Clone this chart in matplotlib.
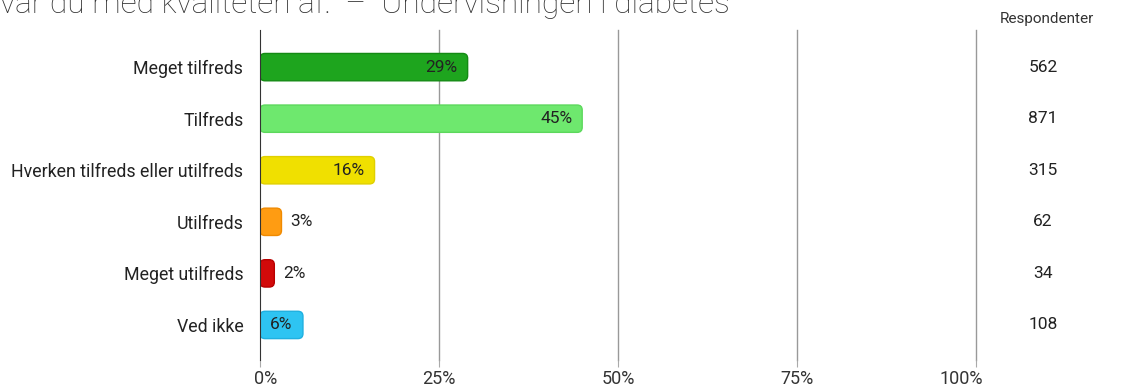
import matplotlib.pyplot as plt
import matplotlib.transforms as mtransforms
from matplotlib.patches import FancyBboxPatch

categories = ["Meget tilfreds", "Tilfreds", "Hverken tilfreds eller utilfreds",
              "Utilfreds", "Meget utilfreds", "Ved ikke"]
percent = [29, 45, 16, 3, 2, 6]
respondents = [562, 871, 315, 62, 34, 108]
colors = ["#1ea51e", "#6ee86e", "#f0e000", "#ff9c12", "#d20a0a", "#2ec4f2"]
edge_colors = ["#148a14", "#5cd85c", "#e0d000", "#f08a00", "#b80000", "#20b0e0"]
title = "var du med kvaliteten af:  \u2013  Undervisningen i diabetes"

plt.rcParams['font.family'] = ['Roboto', 'DejaVu Sans']

W, H = 1121, 387
fig = plt.figure(figsize=(W / 100, H / 100), dpi=100)
x0, x1 = 260, 976
y_top, y_bot = 30, 360
ax = fig.add_axes([x0 / W, 1 - y_bot / H, (x1 - x0) / W, (y_bot - y_top) / H])

ypos = list(range(len(categories)))
bars = ax.barh(ypos, percent, height=0.53)
ax.set_xlim(0, 100)
ax.set_ylim(5.68, -0.72)

# rounded bars
ux = 100 / (x1 - x0)
uy = 6.4 / (y_bot - y_top)
for b, c, ec in zip(bars, colors, edge_colors):
    x, y = b.get_x(), b.get_y()
    w, h = b.get_width(), b.get_height()
    b.remove()
    p = FancyBboxPatch((x, y), w, h, boxstyle="round,pad=0,rounding_size=%f" % (5 * ux),
                       mutation_aspect=uy / ux, facecolor=c, edgecolor=ec, linewidth=1, zorder=3)
    ax.add_patch(p)

# value labels
for i, v in enumerate(percent):
    if v >= 10:
        ax.text(v - 10 * ux, i, "%d%%" % v, ha='right', va='center', fontsize=12.5, color='#222222', zorder=4)
    elif v >= 5:
        ax.text(v / 2, i, "%d%%" % v, ha='center', va='center', fontsize=12.5, color='#222222', zorder=4)
    else:
        ax.text(v + 9 * ux, i, "%d%%" % v, ha='left', va='center', fontsize=12.5, color='#222222', zorder=4)

# respondent column
ytr = ax.get_yaxis_transform()
for i, n in enumerate(respondents):
    ax.text((1043 - x0) / (x1 - x0), i, str(n), transform=ytr, ha='center', va='center',
            fontsize=12.5, color='#222222', clip_on=False)
fig.text(1047 / W, 1 - 19 / H, "Respondenter", ha='center', va='center', fontsize=11, color='#333333')

ax.set_yticks(ypos)
ax.set_yticklabels(categories, fontsize=12.8, color='#222222')
ax.tick_params(axis='y', length=0, pad=12)

ax.set_xticks([0, 25, 50, 75, 100])
ax.set_xticklabels(["0%", "25%", "50%", "75%", "100%"], fontsize=13, color='#333333')
ax.tick_params(axis='x', length=5, color='#aaaaaa', pad=2)
xl = ax.get_xticklabels()
xl[0].set_transform(xl[0].get_transform() + mtransforms.ScaledTranslation(6 / 100, 0, fig.dpi_scale_trans))
xl[-1].set_transform(xl[-1].get_transform() + mtransforms.ScaledTranslation(-15 / 100, 0, fig.dpi_scale_trans))
for v in [25, 50, 75, 100]:
    ax.axvline(v, color='#999999', linewidth=1, zorder=1, clip_on=False)

for s in ['top', 'right', 'bottom']:
    ax.spines[s].set_visible(False)
ax.spines['left'].set_color('#333333')
ax.spines['left'].set_zorder(5)

fig.text(0, 1 - 13 / H, title, ha='left', va='baseline', fontsize=22.8, fontweight='light', color='#333333')

fig.savefig("out.png", dpi=100)
